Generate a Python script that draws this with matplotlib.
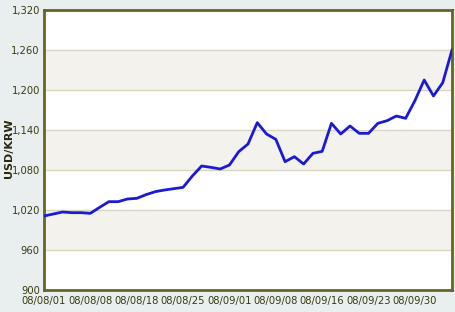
import matplotlib
matplotlib.use("Agg")
import matplotlib.pyplot as plt

# USD/KRW daily rate, 2008-08-01 .. early October (trading days)
rates = [1011, 1014, 1017, 1016, 1016, 1015, 1024, 1032.5, 1032.5, 1036.5,
         1037.5, 1043, 1047.5, 1050, 1052, 1054, 1071, 1086, 1084, 1081.5,
         1087.5, 1107.5, 1119, 1151, 1134, 1126, 1092.5, 1100, 1089, 1105,
         1108, 1150, 1134, 1146, 1135, 1135, 1150, 1154, 1161, 1157.5,
         1184, 1215, 1191, 1211, 1260]
tick_idx = [0, 5, 10, 15, 20, 25, 30, 35, 40]
tick_labels = ["08/08/01", "08/08/08", "08/08/18", "08/08/25", "08/09/01",
               "08/09/08", "08/09/16", "08/09/23", "08/09/30"]
y_ticks = [900, 960, 1020, 1080, 1140, 1200, 1260, 1320]

txt = "#3a3a12"
tick_font = dict(family="DejaVu Sans", stretch="condensed", size=8, color=txt)

fig = plt.figure(figsize=(4.56, 3.12), dpi=100, facecolor="#e9efef")
ax = fig.add_axes([44/456, 1 - 290/312, 408/456, 280/312])
ax.set_facecolor("white")

# shaded bands every other interval
for lo in [960, 1080, 1200]:
    ax.axhspan(lo, lo + 60, color="#f4f2ed", zorder=0, lw=0)
for y in y_ticks[1:-1]:
    ax.axhline(y, color="#d9d5c3", lw=1, zorder=1)

x = list(range(len(rates)))
ax.plot(x, rates, color="#1a1ad6", lw=2, zorder=3)

ax.set_xlim(0, len(rates) - 1)
ax.set_ylim(900, 1320)
ax.set_yticks(y_ticks)
ax.set_yticklabels([f"{v:,}" for v in y_ticks], **tick_font)
ax.set_xticks(tick_idx)
ax.set_xticklabels(tick_labels, **tick_font)
ax.tick_params(axis="y", length=0, pad=3)
ax.tick_params(axis="x", length=0, pad=4)

fig.text(9/456, 1 - 148/312, "USD/KRW", rotation=90, ha="center", va="center",
         fontsize=8, fontweight="bold", color="#2a2a10")

for s in ax.spines.values():
    s.set_color("#666624")
    s.set_linewidth(2)

fig.savefig("out.png", dpi=100, facecolor=fig.get_facecolor())
